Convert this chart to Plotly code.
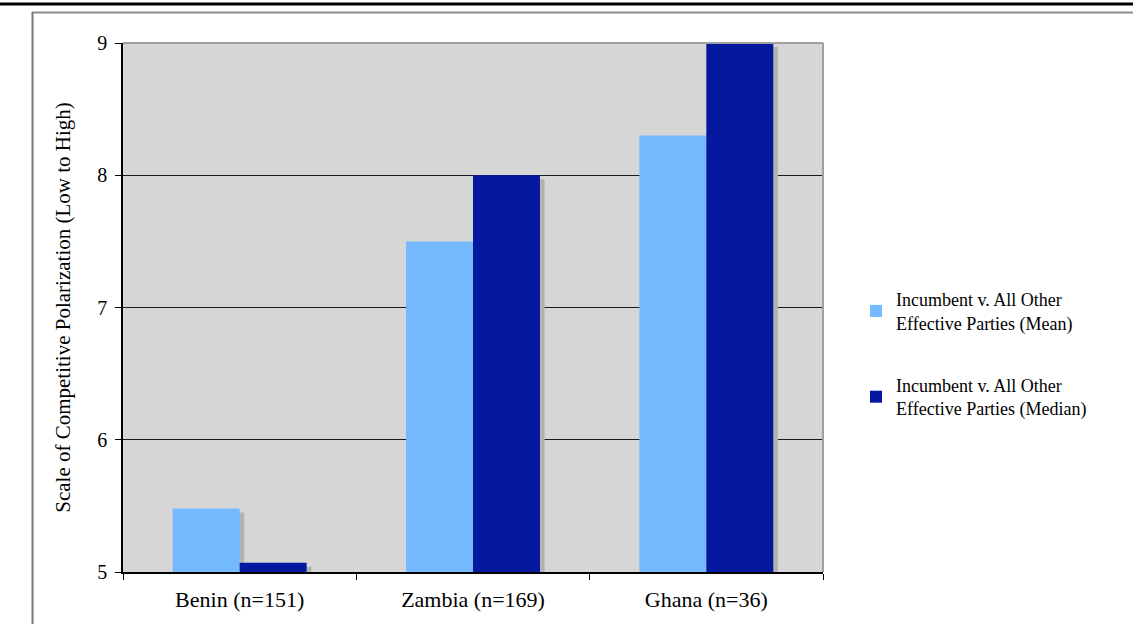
import plotly.graph_objects as go

# Competitive polarization by country sample
categories = ["Benin (n=151)", "Zambia (n=169)", "Ghana (n=36)"]
mean_values = [5.48, 7.50, 8.30]
median_values = [5.07, 8.00, 9.00]
series_names = [
    "Incumbent v. All Other<br>Effective Parties (Mean)",
    "Incumbent v. All Other<br>Effective Parties (Median)",
]
y_ticks = [5, 6, 7, 8, 9]

MEAN_COLOR = "#75B9FF"
MEDIAN_COLOR = "#0419A0"
SHADOW_COLOR = "#B3B3B3"
PLOT_BG = "#D6D6D6"
FONT = "Liberation Serif, Times New Roman, serif"

x_pos = list(range(len(categories)))
bar_w = 0.287
shadow_dx = 0.02
shadow_dy = 0.03

fig = go.Figure()

# drop shadows drawn underneath the bars
for vals, off in ((mean_values, -bar_w), (median_values, 0.0)):
    fig.add_trace(go.Bar(
        x=x_pos, y=[v - shadow_dy for v in vals],
        width=bar_w, offset=off + shadow_dx,
        marker=dict(color=SHADOW_COLOR, line=dict(width=0)),
        showlegend=False, hoverinfo="skip",
    ))

fig.add_trace(go.Bar(
    x=x_pos, y=mean_values, width=bar_w, offset=-bar_w,
    name=series_names[0], legendgroup="a",
    marker=dict(color=MEAN_COLOR, line=dict(width=0)),
))
fig.add_trace(go.Bar(
    x=x_pos, y=median_values, width=bar_w, offset=0.0,
    name=series_names[1], legendgroup="b",
    marker=dict(color=MEDIAN_COLOR, line=dict(width=0)),
))

W, H = 1133, 624
L, R, T, B = 123, 823, 43, 572


def px(xp):
    return (xp - L) / (R - L)


def py(yp):
    return (B - yp) / (B - T)


shapes = [
    # plot area top and right edges
    dict(type="line", xref="paper", yref="paper", x0=0, x1=1, y0=1, y1=1,
         line=dict(color="#A0A0A0", width=2)),
    dict(type="line", xref="paper", yref="paper", x0=1, x1=1, y0=0, y1=1,
         line=dict(color="#A0A0A0", width=2)),
    # page rules
    dict(type="line", xref="paper", yref="paper", x0=px(0), x1=px(W),
         y0=py(4), y1=py(4), line=dict(color="black", width=3)),
    dict(type="line", xref="paper", yref="paper", x0=px(32), x1=px(W),
         y0=py(12.5), y1=py(12.5), line=dict(color="#8C8C8C", width=2)),
    dict(type="line", xref="paper", yref="paper", x0=px(32.5), x1=px(32.5),
         y0=py(12), y1=py(H), line=dict(color="#777777", width=2)),
]

fig.update_layout(
    width=W, height=H,
    margin=dict(l=L, r=W - R, t=T, b=H - B, pad=0),
    paper_bgcolor="white",
    plot_bgcolor=PLOT_BG,
    barmode="overlay",
    font=dict(family=FONT, color="black", size=18),
    shapes=shapes,
    showlegend=True,
    legend=dict(
        x=px(856), y=py(281), xanchor="left", yanchor="top",
        font=dict(family=FONT, size=18, color="black"),
        tracegroupgap=36, itemwidth=30, bgcolor="rgba(0,0,0,0)",
        traceorder="grouped",
    ),
    xaxis=dict(
        range=[-0.5, 2.5], tickmode="array", tickvals=x_pos, ticktext=categories,
        ticks="", showgrid=False, zeroline=False,
        showline=True, linecolor="black", linewidth=1.5,
        ticklabelstandoff=7,
        tickfont=dict(family=FONT, size=22, color="black"),
        minor=dict(tickmode="array", tickvals=[-0.5, 0.5, 1.5, 2.5],
                   ticks="outside", ticklen=6, tickcolor="black", tickwidth=1,
                   showgrid=False),
    ),
    yaxis=dict(
        range=[5, 9], tickmode="array", tickvals=y_ticks,
        ticks="outside", ticklen=6, tickcolor="black", tickwidth=1,
        showgrid=True, gridcolor="#1A1A1A", gridwidth=1, zeroline=False,
        showline=True, linecolor="black", linewidth=1.5,
        ticklabelstandoff=4,
        tickfont=dict(family=FONT, size=20, color="black"),
        title=dict(text="Scale of Competitive Polarization (Low to High)",
                   font=dict(family=FONT, size=21, color="black"), standoff=21),
    ),
)

fig.write_html("out.html")
